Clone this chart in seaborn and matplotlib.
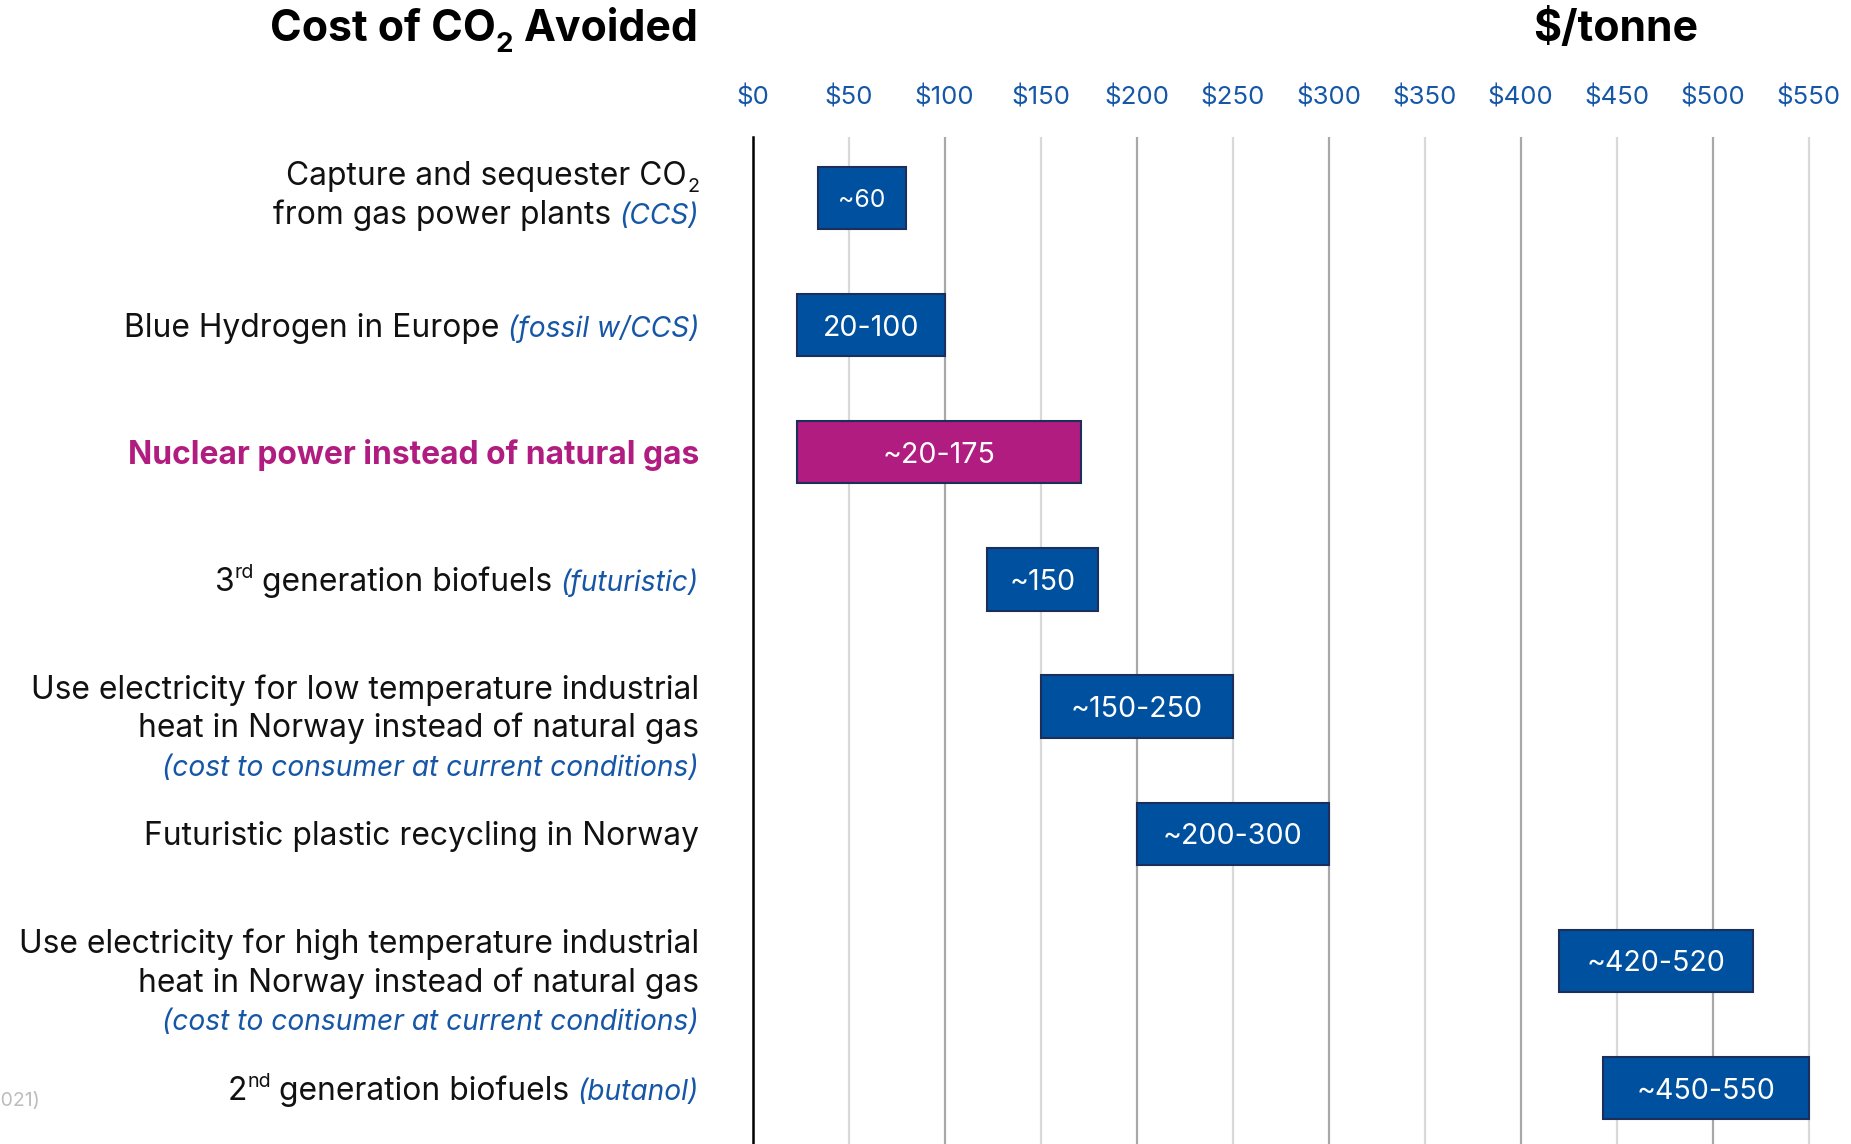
import pandas as pd
import seaborn as sns
import matplotlib.pyplot as plt
from matplotlib import transforms
from matplotlib.ticker import FixedLocator, FixedFormatter

# data, cost of CO2 avoided in $/tonne
options = ["CCS gas power", "Blue hydrogen", "Nuclear", "3rd gen biofuels",
           "Low temp heat", "Plastic recycling", "High temp heat", "2nd gen biofuels"]
cost_low = [34, 23, 23, 122, 150, 200, 420, 443]
cost_high = [80, 100, 171, 180, 250, 300, 521, 550]
range_text = ["~60", "20-100", "~20-175", "~150", "~150-250", "~200-300", "~420-520", "~450-550"]
highlight = "Nuclear"

x_ticks = [0, 50, 100, 150, 200, 250, 300, 350, 400, 450, 500, 550]
tick_labels = ["$0", "$50", "$100", "$150", "$200", "$250", "$300", "$350",
               "$400", "$450", "$500", "$550"]

# row labels: lines of (text, kind) pieces
row_lines = [
    [[("Capture and sequester CO", "n"), ("2", "sub")],
     [("from gas power plants", "n"), (" (CCS)", "i")]],
    [[("Blue Hydrogen in Europe", "n"), (" (fossil w/CCS)", "i")]],
    [[("Nuclear power instead of natural gas", "hl")]],
    [[("3", "n"), ("rd", "sup"), (" generation biofuels", "n"), (" (futuristic)", "i")]],
    [[("Use electricity for low temperature industrial", "n")],
     [("heat in Norway instead of natural gas", "n")]],
    [[("Futuristic plastic recycling in Norway", "n")]],
    [[("Use electricity for high temperature industrial", "n")],
     [("heat in Norway instead of natural gas", "n")]],
    [[("2", "n"), ("nd", "sup"), (" generation biofuels", "n"), (" (butanol)", "i")]],
]
row_notes = [None, None, None, None, "(cost to consumer at current conditions)",
             None, "(cost to consumer at current conditions)", None]

title_pieces = [("Cost of CO", "b"), ("2", "bsub"), (" Avoided", "b")]
unit_text = "$/tonne"
source_text = "Source: Statistics Norway (2021)"

# colours / sizes
BAR_BLUE = "#0050a0"
BAR_EDGE = "#1c2f5a"
MAGENTA = "#b01c7f"
TXT_BLUE = "#1556a6"
INK = "#111111"
DPI = 100
W, H = 1851, 1144
LABEL_FS = 22.9
LINE_PX = 38.5

STYLE = {
    "n": dict(color=INK, fontstyle="normal", fontweight="normal", scale=1.0, rise=0.0),
    "i": dict(color=TXT_BLUE, fontstyle="italic", fontweight="normal", scale=0.885, rise=0.0),
    "hl": dict(color=MAGENTA, fontstyle="normal", fontweight="bold", scale=1.0, rise=0.0),
    "sup": dict(color=INK, fontstyle="normal", fontweight="normal", scale=0.62, rise=0.40),
    "sub": dict(color=INK, fontstyle="normal", fontweight="normal", scale=0.62, rise=-0.22),
    "b": dict(color="black", fontstyle="normal", fontweight="bold", scale=1.0, rise=0.0),
    "bsub": dict(color="black", fontstyle="normal", fontweight="bold", scale=0.65, rise=-0.25),
}

sns.set_style("white")
plt.rcParams["font.family"] = ["Inter", "DejaVu Sans"]

df = pd.DataFrame({"option": options,
                   "span": [h - l for l, h in zip(cost_low, cost_high)]})

fig = plt.figure(figsize=(W / DPI, H / DPI), dpi=DPI)
ax = fig.add_axes([752.7 / W, 0, 1075 / W, 1 - 137 / H])

sns.barplot(data=df, x="span", y="option", orient="h", left=cost_low, width=0.49,
            color=BAR_BLUE, edgecolor=BAR_EDGE, linewidth=1.5, saturation=1, ax=ax)
for bar, opt in zip(ax.patches, options):
    bar.set_facecolor(MAGENTA if opt == highlight else BAR_BLUE)

for i, (lo, hi, txt) in enumerate(zip(cost_low, cost_high, range_text)):
    ax.text((lo + hi) / 2, i, txt, ha="center", va="center_baseline", color="white",
            fontsize=17.8 if i == 0 else 20.6)

ax.set_xlim(0, 560)
ax.set_ylim(7.44, -0.48)
ax.set_xlabel("")
ax.set_ylabel("")
ax.set_yticks([])

ax.xaxis.set_major_locator(FixedLocator(x_ticks[0::2]))
ax.xaxis.set_major_formatter(FixedFormatter(tick_labels[0::2]))
ax.xaxis.set_minor_locator(FixedLocator(x_ticks[1::2]))
ax.xaxis.set_minor_formatter(FixedFormatter(tick_labels[1::2]))
ax.xaxis.tick_top()
ax.tick_params(axis="x", which="both", length=0, pad=20, labelsize=18.6, labelcolor=TXT_BLUE)
ax.set_axisbelow(True)
ax.grid(which="major", axis="x", color="#a8a8a8", lw=1.6)
ax.grid(which="minor", axis="x", color="#d9d9d9", lw=1.6)
ax.grid(axis="y", visible=False)
for side in ["top", "right", "bottom"]:
    ax.spines[side].set_visible(False)
ax.spines["left"].set_color("black")
ax.spines["left"].set_linewidth(1.8)

renderer = fig.canvas.get_renderer()


def draw_pieces(pieces, x, y, base, size, dy_px=0.0):
    # lay pieces out right to left, sharing one baseline
    x_off = 0.0
    for text, kind in reversed(pieces):
        st = STYLE[kind]
        lead = text.startswith(" ")
        rise_px = st["rise"] * size * DPI / 72
        shift = transforms.ScaledTranslation(x_off / DPI, (dy_px + rise_px) / DPI,
                                             fig.dpi_scale_trans)
        t = ax.text(x, y, text.lstrip(), transform=base + shift, ha="right", va="baseline",
                    fontsize=size * st["scale"], color=st["color"],
                    fontstyle=st["fontstyle"], fontweight=st["fontweight"], clip_on=False)
        x_off -= t.get_window_extent(renderer).width
        if lead:
            x_off -= 0.26 * size * DPI / 72


label_base = transforms.blended_transform_factory(fig.transFigure, ax.transData)
label_x = 699 / W
em_px = LABEL_FS * DPI / 72
for i, lines in enumerate(row_lines):
    n = len(lines)
    lift = 5 if i == 0 else 0
    for k, pieces in enumerate(lines):
        dy = -(k - (n - 1) / 2) * LINE_PX - 0.36 * em_px + lift
        draw_pieces(pieces, label_x, i, label_base, LABEL_FS, dy)
    if row_notes[i]:
        dy = -((n - 1) / 2 + 1) * LINE_PX - 0.36 * em_px
        draw_pieces([(row_notes[i], "i")], label_x, i, label_base, LABEL_FS, dy)

draw_pieces(title_pieces, 699 / W, 1 - 41 / H, fig.transFigure, 30.8)
fig.text(1698 / W, 1 - 41 / H, unit_text, ha="right", va="baseline",
         fontsize=30.8, fontweight="bold", color="black")
fig.text(40 / W, 1 - 1101 / H, source_text, ha="right", va="center",
         fontsize=14, color="#bdbdbd")

fig.savefig("out.png", dpi=DPI)
